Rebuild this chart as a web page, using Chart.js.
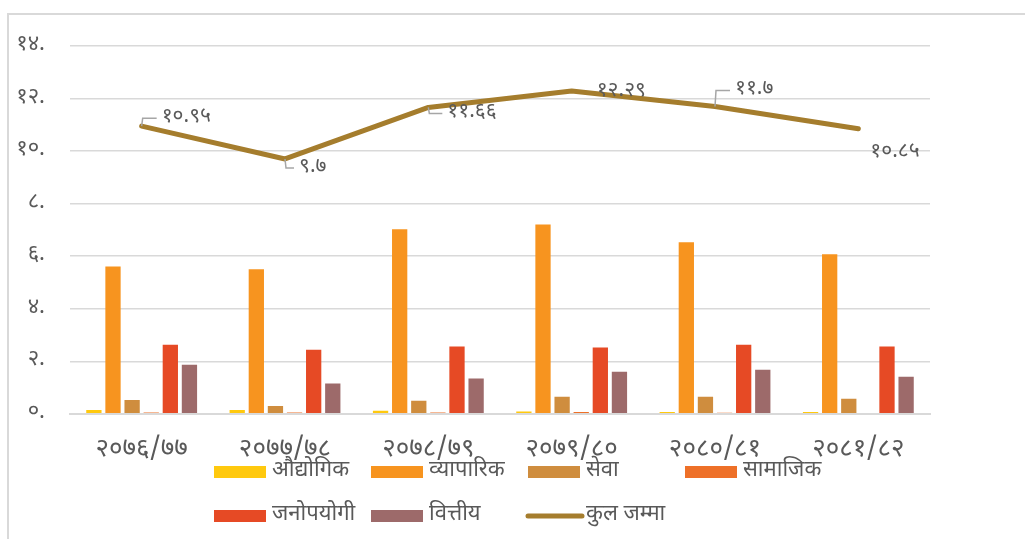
<!DOCTYPE html>
<html>
<head>
<meta charset="utf-8">
<script src="https://cdn.jsdelivr.net/npm/chart.js@4.4.1/dist/chart.umd.min.js"></script>
<style>
  html, body { margin: 0; padding: 0; background: #fff; }
  #wrap { position: relative; width: 1025px; height: 539px; }
  #frame { position: absolute; left: 7px; top: 13px; right: 0; bottom: 0;
           border-left: 2px solid #d9d9d9; border-top: 2px solid #d9d9d9; }
  canvas { position: absolute; left: 0; top: 0; }
</style>
</head>
<body>
<div id="wrap">
  <div id="frame"></div>
  <canvas id="chart" width="1025" height="539"></canvas>
</div>
<script>
/* data */
const years = ['२०७६/७७', '२०७७/७८', '२०७८/७९', '२०७९/८०', '२०८०/८१', '२०८१/८२'];
const audyogik   = [0.14, 0.14, 0.12, 0.09, 0.07, 0.07];
const byaparik   = [5.61, 5.50, 7.02, 7.21, 6.53, 6.07];
const sewa       = [0.53, 0.30, 0.50, 0.65, 0.65, 0.57];
const samajik    = [0.05, 0.05, 0.05, 0.07, 0.04, 0.03];
const janopayogi = [2.63, 2.44, 2.56, 2.52, 2.63, 2.56];
const bittiya    = [1.87, 1.15, 1.34, 1.60, 1.68, 1.41];
const kulJamma   = [10.95, 9.7, 11.66, 12.29, 11.7, 10.85];
const yTickLabels = ['०.', '२.', '४.', '६.', '८.', '१०.', '१२.', '१४.'];

const FONT = '"Noto Sans Devanagari", "Noto Sans", sans-serif';
const GREY = '#595959';

const devDigits = '०१२३४५६७८९';
function toDev(v) {
  return String(v).replace(/[0-9]/g, d => devDigits[+d]);
}

// leader-line data labels for the total line (offsets are layout only)
const lineLabelOffsets = [
  { dx: 20, dy: -8, leader: true },
  { dx: 14, dy: 9, leader: true },
  { dx: 19, dy: 6, leader: true },
  { dx: 25, dy: 1, leader: false },
  { dx: 20, dy: -16, leader: true },
  { dx: 12, dy: 24, leader: false }
];

const lineLabels = {
  id: 'lineLabels',
  afterDatasetsDraw(chart) {
    const idx = chart.data.datasets.findIndex(d => d.type === 'line');
    const meta = chart.getDatasetMeta(idx);
    const c = chart.ctx;
    c.save();
    c.font = '21px ' + FONT;
    c.fillStyle = GREY;
    c.textBaseline = 'middle';
    meta.data.forEach((pt, i) => {
      const o = lineLabelOffsets[i];
      const tx = pt.x + o.dx, ty = pt.y + o.dy;
      if (o.leader) {
        c.strokeStyle = '#a6a6a6';
        c.lineWidth = 1.5;
        c.beginPath();
        c.moveTo(pt.x, pt.y);
        c.lineTo(pt.x + 1, ty);
        c.lineTo(tx - 5, ty);
        c.stroke();
      }
      c.fillText(toDev(chart.data.datasets[idx].data[i]), tx, ty);
    });
    c.restore();
  }
};

// Excel-style legend with fixed columns
const gridLegend = {
  id: 'gridLegend',
  afterDraw(chart) {
    const c = chart.ctx;
    const x0 = 214, colW = 157, rows = [472, 516];
    c.save();
    c.font = '22px ' + FONT;
    c.textBaseline = 'middle';
    chart.data.datasets.forEach((ds, i) => {
      const col = i % 4, row = Math.floor(i / 4);
      const x = x0 + col * colW, y = rows[row];
      if (ds.type === 'line') {
        c.strokeStyle = ds.borderColor;
        c.lineWidth = 5;
        c.lineCap = 'round';
        c.beginPath();
        c.moveTo(x, y);
        c.lineTo(x + 54, y);
        c.stroke();
      } else {
        c.fillStyle = ds.backgroundColor;
        c.fillRect(x, y - 6, 52, 12);
      }
      c.fillStyle = GREY;
      c.fillText(ds.label, x + 58, y);
    });
    c.restore();
  }
};

function bar(label, data, color) {
  return {
    type: 'bar', label, data,
    backgroundColor: color,
    borderWidth: 0,
    categoryPercentage: 0.8,
    barPercentage: 0.8,
    order: 2
  };
}

new Chart(document.getElementById('chart'), {
  data: {
    labels: years,
    datasets: [
      bar('औद्योगिक', audyogik, '#FFC90E'),
      bar('व्यापारिक', byaparik, '#F7941F'),
      bar('सेवा', sewa, '#CF8D3E'),
      bar('सामाजिक', samajik, '#EE7028'),
      bar('जनोपयोगी', janopayogi, '#E64A25'),
      bar('वित्तीय', bittiya, '#9D6A6A'),
      {
        type: 'line', label: 'कुल जम्मा', data: kulJamma,
        borderColor: '#A57D2D', borderWidth: 5,
        pointRadius: 0, tension: 0, order: 1,
        borderCapStyle: 'round', borderJoinStyle: 'round'
      }
    ]
  },
  options: {
    responsive: false,
    animation: false,
    layout: { padding: { left: 10, right: 95, top: 46, bottom: 58 } },
    plugins: {
      legend: { display: false },
      tooltip: { enabled: false }
    },
    scales: {
      x: {
        grid: { display: false },
        border: { color: '#d9d9d9', width: 2 },
        ticks: { color: GREY, font: { family: FONT, size: 26 }, padding: 14, maxRotation: 0 }
      },
      y: {
        min: 0, max: 14,
        afterFit(s) { s.width = 60; },
        grid: { color: '#d9d9d9', lineWidth: 1.5, drawTicks: false },
        border: { display: false },
        ticks: {
          stepSize: 2, padding: 25,
          color: GREY, font: { family: FONT, size: 22 },
          callback: (v, i) => yTickLabels[i]
        }
      }
    }
  },
  plugins: [lineLabels, gridLegend]
});
</script>
</body>
</html>
